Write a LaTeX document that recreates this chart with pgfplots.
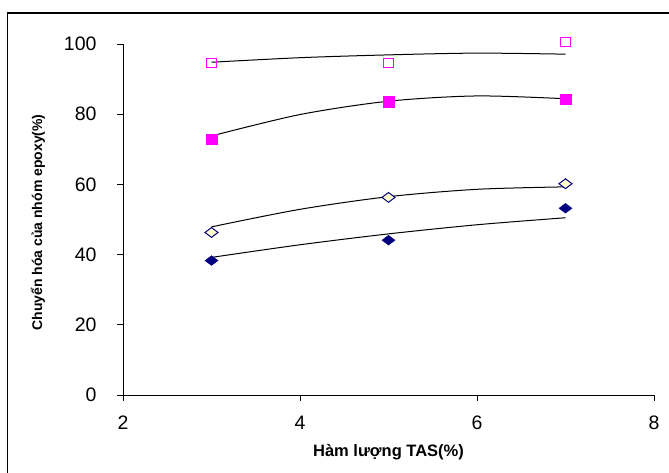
\documentclass[border=0pt]{standalone}
\usepackage{fontspec}
\setmainfont{Liberation Sans}
\usepackage{pgfplots}
\pgfplotsset{compat=1.18}
\definecolor{mag}{HTML}{FF00FF}
\definecolor{nav}{HTML}{000080}
\definecolor{lyel}{HTML}{FFFFCC}
\begin{document}
\begin{tikzpicture}
\useasboundingbox (0,0) rectangle (669pt,473pt);
\draw[line width=1.3pt] (7.5pt,-20pt) -- (7.5pt,460pt) -- (700pt,460pt);
\begin{axis}[
  at={(123pt,78pt)}, anchor=south west,
  scale only axis, width=531pt, height=351pt,
  xmin=2, xmax=8, ymin=0, ymax=100,
  axis x line*=bottom, axis y line*=left,
  xtick={2,4,6,8}, ytick={0,20,40,60,80,100},
  tick align=outside, major tick length=6pt,
  tick style={black, line width=0.8pt},
  axis line style={black, line width=0.8pt},
  /pgf/number format/assume math mode=true,
  ticklabel style={font=\fontsize{19.5}{22}\selectfont},
  xticklabel style={anchor=center, yshift=-22pt},
  yticklabel style={anchor=east, xshift=-17pt},
  xlabel={Hàm lượng TAS(\%)},
  ylabel={Chuyển hóa của nhóm epoxy(\%)},
  xlabel style={font=\bfseries\fontsize{16.5}{18}\selectfont, at={(axis description cs:0.5,0)}, anchor=center, yshift=-57pt},
  ylabel style={font=\bfseries\fontsize{14}{17}\selectfont, at={(axis description cs:0,0.5)}, anchor=center, yshift=85pt, xshift=-3pt},
  clip=false,
]
% trend lines
\addplot[black, line width=1pt, smooth] coordinates {(3,94.8) (4,96.1) (5,96.9) (6,97.4) (7,97.1)};
\addplot[black, line width=1pt, smooth] coordinates {(3,73.8) (4,79.9) (5,83.7) (6,85.2) (7,84.4)};
\addplot[black, line width=1pt, smooth] coordinates {(3,47.9) (4,52.9) (5,56.5) (6,58.6) (7,59.3)};
\addplot[black, line width=1pt, smooth] coordinates {(3,39.2) (4,42.8) (5,45.9) (6,48.5) (7,50.5)};
% data
\addplot[only marks, mark=square, mark size=4.7pt, mag, mark options={line width=1pt}] coordinates {(3,94.6) (5,94.6) (7,100.6)};
\addplot[only marks, mark=square*, mark size=5.2pt, mag, mark options={fill=mag}] coordinates {(3,72.8) (5,83.6) (7,84.3)};
\addplot[only marks, mark=diamond*, mark size=6.5pt, mark options={draw=nav, fill=lyel, rotate=90, line width=1pt}] coordinates {(3,46.3) (5,56.3) (7,60.2)};
\addplot[only marks, mark=diamond*, mark size=6.5pt, mark options={draw=nav, fill=nav, rotate=90}] coordinates {(3,38.3) (5,44.1) (7,53.2)};
\end{axis}
\end{tikzpicture}
\end{document}
